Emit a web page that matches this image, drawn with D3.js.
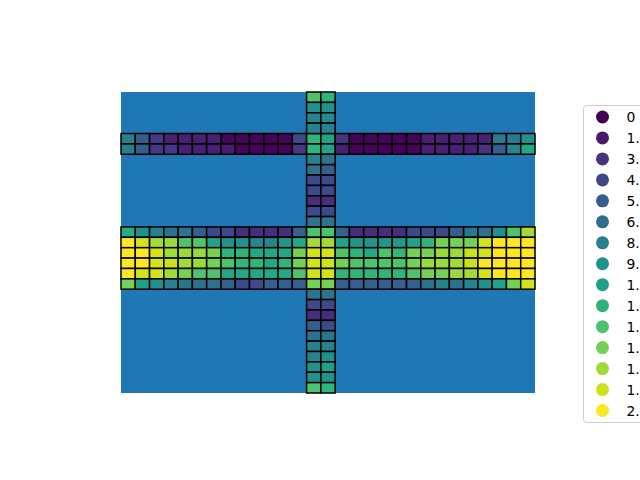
<!DOCTYPE html>
<html><head><meta charset="utf-8">
<script src="https://cdn.jsdelivr.net/npm/d3@7"></script>
<style>html,body{margin:0;padding:0;background:#fff;overflow:hidden}</style>
</head><body>
<svg id="chart" width="640" height="480"></svg>
<script>
// Grid: 29 x 29 cells; only the cross-shaped corridors are drawn.
const nCols = 29, nRows = 29;
const upperRowIdx = [4, 5];
const lowerRowIdx = [13, 14, 15, 16, 17, 18];
const vertColIdx = [13, 14];

// Horizontal rows (all 29 columns), values 0..20
const row4 = [8.6,5.8,3.2,1.8,1.8,1.8,1.8,0.2,0.2,0.2,0.2,0.2,4.4, 13.0,11.6, 3.0,0.2,0.2,0.2,0.2,0.2,1.8,1.8,1.8,1.8,1.8,8.2,8.2,10.0];
const row5 = [8.6,5.8,3.2,3.2,1.8,1.8,1.8,1.6,0.2,0.2,0.2,0.2,3.2, 13.0,11.6, 1.8,0.2,0.2,0.2,0.2,0.2,1.8,1.8,1.8,1.8,3.0,5.8,9.0,12.0];
const row13 = [12.6,10,8.6,7.4,7.4,6,4.4,4.4,2.6,2.6,2.6,2.6,6, 14.4,14.4, 6,2.6,2.6,2.6,2.6,4.4,4.4,4.4,6,8,7.4,10,14.4,17.2];
const row14 = [20,18.6,17.2,17,14.4,14.6,11.6,10,10,9,9,10.4,12, 17.2,17.2, 11.6,10.4,10.4,10.4,10.6,11.6,13,15.8,15.8,15.8,18.6,20,20,20];
const row15 = [20,20,18.6,17.2,17,16.8,16,13,13,12,12,12,15.8, 18.6,18.6, 14.4,13,12,14.4,13.2,15.8,15.8,17,17,18.4,18.6,20,20,20];
const row16 = [20,20,18.6,18.4,17.2,17,15.8,14.4,13.2,13,12,13,15.8, 18.6,18.6, 15.8,14.4,14.4,14.4,14.4,15.8,17,17,17.2,18.4,20,20,20,20];
const row17 = [20,18.6,18.6,17.2,16,14.4,14.4,12,12,12,12,12,14.4, 18.6,18.6, 13,13,13,13,13,14.4,15.8,15.8,17,17.2,18.6,20,20,20];
const row18 = [15.8,11.4,10,8.8,7.6,7.6,7.6,6,4.4,4.4,6,6,6, 15.8,15.8, 6,6,6,6,6,6,7.6,8.8,7.6,8.8,10,11.6,15.8,18.6];

// Vertical columns (all 29 rows)
const col13 = [14.4,10,9,8.8,13,13,8.8,7.4,4.4,4.4,2.6,4.4,7.6,14.4,17.2,18.6,18.6,18.6,15.8,7.6,4.4,2.6,6,7.6,8.8,8.8,10,10,14.4];
const col14 = [13,10,9.6,8.8,11.6,11.6,7.6,6,4.4,4.4,2.6,4.4,7.6,14.4,17.2,18.6,18.6,18.6,15.8,7.6,4.4,2.6,4.4,7.6,8.8,10,11.4,10.4,13];

const legendLabels = ["0","1.","3.","4.","5.","6.","8.","9.","1.","1.","1.","1.","1.","1.","2."];
const valueMin = 0, valueMax = 20;

// Build cell table
const cells = [];
const seen = new Set();
function add(r, c, v) {
  const k = r + "_" + c;
  if (seen.has(k)) return;
  seen.add(k);
  cells.push({r, c, v});
}
const horiz = [[4,row4],[5,row5],[13,row13],[14,row14],[15,row15],[16,row16],[17,row17],[18,row18]];
horiz.forEach(([r, arr]) => arr.forEach((v, c) => add(r, c, v)));
[[13,col13],[14,col14]].forEach(([c, arr]) => arr.forEach((v, r) => add(r, c, v)));

const svg = d3.select("#chart");
const x = d3.scaleBand().domain(d3.range(nCols)).range([121, 535]).padding(0);
const y = d3.scaleBand().domain(d3.range(nRows)).range([92, 393]).padding(0);
const color = d3.scaleSequential(d3.interpolateViridis).domain([valueMin, valueMax]);

svg.append("rect").attr("x", 121).attr("y", 92).attr("width", 414).attr("height", 301).attr("fill", "#1f77b4");

svg.append("g").selectAll("rect").data(cells).join("rect")
  .attr("x", d => x(d.c)).attr("y", d => y(d.r))
  .attr("width", x.bandwidth()).attr("height", y.bandwidth())
  .attr("fill", d => color(d.v))
  .attr("stroke", "#000").attr("stroke-width", 1.5);

// Legend
const lg = svg.append("g");
lg.append("rect").attr("x", 583.5).attr("y", 105.5).attr("width", 80).attr("height", 317)
  .attr("rx", 3).attr("fill", "#fff").attr("fill-opacity", 0.8).attr("stroke", "#cccccc");
const ly = d3.scaleLinear().domain([0, legendLabels.length - 1]).range([117, 410.5]);
legendLabels.forEach((lab, i) => {
  lg.append("circle").attr("cx", 602.5).attr("cy", ly(i)).attr("r", 6.5)
    .attr("fill", d3.interpolateViridis(i / (legendLabels.length - 1)));
  lg.append("text").attr("x", 626.5).attr("y", ly(i)).attr("dy", "0.36em")
    .attr("font-family", "DejaVu Sans").attr("font-size", 13.9).attr("fill", "#000").text(lab);
});
</script>
</body></html>
